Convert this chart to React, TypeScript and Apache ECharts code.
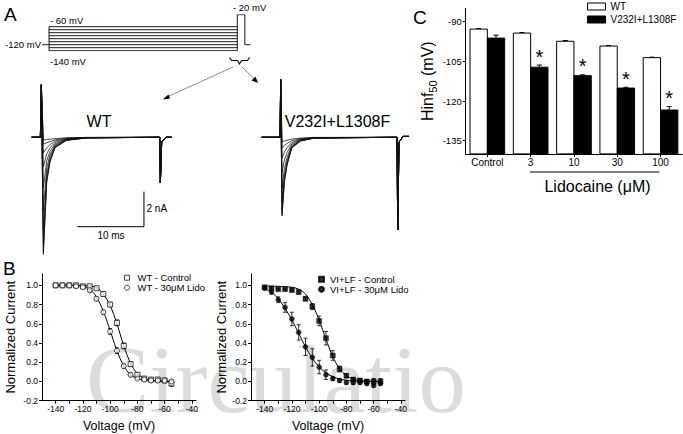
import React, { useEffect, useRef } from 'react';
import * as echarts from 'echarts';

const FONT = '"Liberation Sans", Arial, Helvetica, sans-serif';

// ---------------- Panel C : Hinf50 bars ----------------
const C_CATEGORIES = ['Control', '3', '10', '30', '100'];
const C_WT = [-92.8, -94.3, -97.4, -99.2, -103.6];
const C_WT_ERR = [0.2, 0.2, 0.3, 0.2, 0.2];
const C_MUT = [-96.2, -107.2, -110.4, -115.1, -123.4];
const C_MUT_ERR = [1.1, 0.8, 0.3, 0.3, 1.3];
const C_SIGNIFICANT = [0, 1, 1, 1, 1];
const C_Y_LABELS = [-135, -120, -105, -90];

// ---------------- Panel B : steady-state inactivation ----------------
const B_VOLTAGES = [-140, -135, -130, -125, -120, -115, -110, -105, -100, -95, -90, -85, -80, -75, -70, -65, -60, -55];
const WT_CTRL = [1.0, 1.0, 1.0, 1.0, 0.99, 0.99, 0.97, 0.91, 0.8, 0.61, 0.37, 0.18, 0.07, 0.03, 0.02, 0.02, 0.01, -0.02];
const WT_CTRL_ERR = [0.01, 0.01, 0.01, 0.01, 0.01, 0.01, 0.01, 0.02, 0.02, 0.03, 0.03, 0.02, 0.02, 0.01, 0.01, 0.01, 0.01, 0.03];
const WT_LIDO = [1.0, 1.0, 1.0, 0.99, 0.98, 0.95, 0.86, 0.72, 0.52, 0.32, 0.16, 0.07, 0.03, 0.02, 0.01, 0.01, 0.01, 0.0];
const WT_LIDO_ERR = [0.01, 0.01, 0.01, 0.01, 0.01, 0.02, 0.02, 0.02, 0.03, 0.03, 0.02, 0.02, 0.01, 0.01, 0.01, 0.01, 0.01, 0.02];
const WT_CTRL_FIT = [1.0, 1.0, 1.0, 1.0, 1.0, 0.99, 0.98, 0.91, 0.79, 0.6, 0.37, 0.19, 0.08, 0.035, 0.015, 0.006, 0.003, 0.001];
const WT_LIDO_FIT = [1.0, 1.0, 1.0, 0.995, 0.99, 0.96, 0.88, 0.73, 0.53, 0.32, 0.16, 0.07, 0.03, 0.012, 0.005, 0.002, 0.001, 0.0];

const VL_CTRL = [0.98, 0.97, 0.96, 0.96, 0.95, 0.93, 0.86, 0.78, 0.63, 0.45, 0.27, 0.13, 0.06, 0.02, 0.01, 0.0, 0.0, 0.0];
const VL_CTRL_ERR = [0.01, 0.01, 0.01, 0.01, 0.01, 0.02, 0.02, 0.03, 0.05, 0.07, 0.05, 0.03, 0.02, 0.02, 0.02, 0.02, 0.03, 0.03];
const VL_LIDO = [0.97, 0.93, 0.85, 0.77, 0.65, 0.51, 0.36, 0.25, 0.15, 0.07, 0.03, 0.01, -0.01, -0.01, -0.01, -0.02, -0.04, -0.02];
const VL_LIDO_ERR = [0.01, 0.02, 0.03, 0.05, 0.07, 0.08, 0.09, 0.09, 0.07, 0.05, 0.02, 0.02, 0.02, 0.02, 0.02, 0.02, 0.02, 0.02];
const VL_CTRL_FIT = [0.995, 0.99, 0.99, 0.985, 0.98, 0.96, 0.91, 0.8, 0.64, 0.44, 0.26, 0.13, 0.06, 0.025, 0.01, 0.004, 0.002, 0.001];
const VL_LIDO_FIT = [0.96, 0.93, 0.86, 0.76, 0.64, 0.5, 0.36, 0.24, 0.15, 0.09, 0.05, 0.025, 0.013, 0.006, 0.003, 0.001, 0.0, 0.0];

const B_X_LABELS = [-140, -120, -100, -80, -60, -40];
const B_X_TICKS = [-140, -130, -120, -110, -100, -90, -80, -70, -60, -50, -40];
const B_Y_LABELS = [-0.2, 0.0, 0.2, 0.4, 0.6, 0.8, 1.0];

// ---------------- Panel A : current traces (ms, nA) ----------------
const WT_T = [0, 1.3, 1.45, 1.75, 2.25, 2.75, 3.5, 5.2, 8.2, 19.2, 19.3, 19.5, 20.2, 21];
const WT_TRACES = [
  [0, 0, 3.0, -6.7, -2.6, -1.4, -0.6, -0.18, -0.04, 0, -2.6, -0.25, 0, 0],
  [0, 0, 3.0, -6.5, -2.5, -1.35, -0.58, -0.17, -0.04, 0, -2.6, -0.25, 0, 0],
  [0, 0, 3.0, -6.1, -2.35, -1.3, -0.55, -0.16, -0.04, 0, -2.6, -0.25, 0, 0],
  [0, 0, 3.0, -5.3, -2.1, -1.15, -0.5, -0.15, -0.03, 0, -2.6, -0.25, 0, 0],
  [0, 0, 3.0, -4.2, -1.75, -1.0, -0.45, -0.13, -0.03, 0, -2.6, -0.25, 0, 0],
  [0, 0, 3.0, -2.9, -1.35, -0.8, -0.38, -0.11, -0.03, 0, -2.6, -0.25, 0, 0],
  [0, 0, 3.0, -1.7, -0.95, -0.6, -0.3, -0.09, -0.02, 0, -2.6, -0.25, 0, 0],
  [0, 0, 3.0, -0.9, -0.6, -0.42, -0.22, -0.07, -0.02, 0, -2.6, -0.25, 0, 0],
  [0, 0, 3.0, -0.4, -0.32, -0.25, -0.15, -0.05, -0.01, 0, -2.6, -0.25, 0, 0],
  [0, 0, 3.0, -0.15, -0.13, -0.11, -0.08, -0.03, -0.01, 0, -2.6, -0.25, 0, 0],
];
const VL_T = [0, 2.75, 2.85, 3.05, 3.4, 3.8, 4.5, 5.8, 7.8, 20.3, 20.4, 20.6, 21.2, 22.1];
const VL_TRACES = [
  [0, 0, 3.3, -4.5, -2.6, -1.6, -0.62, -0.22, -0.05, 0, -5.3, -0.28, 0.05, 0.05],
  [0, 0, 3.3, -4.4, -2.5, -1.55, -0.6, -0.21, -0.05, 0, -5.3, -0.28, 0.05, 0.05],
  [0, 0, 3.3, -4.2, -2.4, -1.5, -0.58, -0.2, -0.05, 0, -5.3, -0.28, 0.05, 0.05],
  [0, 0, 3.3, -3.7, -2.15, -1.35, -0.53, -0.19, -0.04, 0, -5.3, -0.28, 0.05, 0.05],
  [0, 0, 3.3, -2.9, -1.8, -1.15, -0.47, -0.17, -0.04, 0, -5.3, -0.28, 0.05, 0.05],
  [0, 0, 3.3, -2.0, -1.3, -0.88, -0.39, -0.14, -0.03, 0, -5.3, -0.28, 0.05, 0.05],
  [0, 0, 3.3, -1.2, -0.85, -0.6, -0.3, -0.11, -0.03, 0, -5.3, -0.28, 0.05, 0.05],
  [0, 0, 3.3, -0.6, -0.47, -0.36, -0.2, -0.08, -0.02, 0, -5.3, -0.28, 0.05, 0.05],
  [0, 0, 3.3, -0.25, -0.21, -0.17, -0.11, -0.05, -0.01, 0, -5.3, -0.28, 0.05, 0.05],
];
const SCALE_MS = 10;
const SCALE_NA = 2;

// ---------------- Panel A : voltage protocol ----------------
const PROTOCOL_LEVELS = [-140, -130, -120, -110, -100, -90, -80, -70, -60];
const PRE_MS = 500;
const TEST_MS = 20;
const TAIL_MS = 15;
const TEST_MV = -20;
const HOLD_MV = -120;

const txt = (text: string, x: number, y: number, size: number, align = 'left', extra: any = {}) => ({
  type: 'text',
  x,
  y,
  z: 100,
  silent: true,
  style: {
    text,
    fontFamily: FONT,
    fontSize: size,
    fill: '#000',
    align,
    verticalAlign: 'middle',
    ...extra,
  },
});

function barRenderer(offsetFrac: number, fill: string) {
  return (params: any, api: any) => {
    const i = api.value(0);
    const v = api.value(1);
    const e = api.value(2);
    const sig = api.value(3);
    const band = api.size([1, 0])[0];
    const pt = api.coord([i, v]);
    const cx = pt[0] + offsetFrac * band;
    const w = band * 0.4;
    const top = pt[1];
    const cs = params.coordSys;
    const bottom = cs.y + cs.height;
    const errTop = api.coord([i, v + e])[1];
    const children: any[] = [
      { type: 'line', shape: { x1: cx, y1: top, x2: cx, y2: errTop }, style: { stroke: '#000', lineWidth: 1 } },
      { type: 'line', shape: { x1: cx - 2.5, y1: errTop, x2: cx + 2.5, y2: errTop }, style: { stroke: '#000', lineWidth: 1 } },
      {
        type: 'rect',
        shape: { x: cx - w / 2, y: top, width: w, height: bottom - top },
        style: { fill, stroke: '#000', lineWidth: 1 },
      },
    ];
    if (sig) {
      children.push({
        type: 'text',
        x: cx,
        y: errTop - 8.5,
        style: { text: '*', fontFamily: FONT, fontSize: 20, fill: '#000', align: 'center', verticalAlign: 'middle' },
      });
    }
    return { type: 'group', children };
  };
}

function errRenderer(params: any, api: any) {
  const x = api.value(0);
  const y = api.value(1);
  const e = api.value(2);
  const lo = api.coord([x, y - e]);
  const hi = api.coord([x, y + e]);
  const st = { stroke: '#000', lineWidth: 0.8 };
  return {
    type: 'group',
    children: [
      { type: 'line', shape: { x1: lo[0], y1: lo[1], x2: hi[0], y2: hi[1] }, style: st },
      { type: 'line', shape: { x1: lo[0] - 2, y1: lo[1], x2: lo[0] + 2, y2: lo[1] }, style: st },
      { type: 'line', shape: { x1: hi[0] - 2, y1: hi[1], x2: hi[0] + 2, y2: hi[1] }, style: st },
    ],
  };
}

function buildOption(): any {
  const axisLine = { show: true, onZero: false, lineStyle: { color: '#000', width: 1 } };
  const hiddenAxis = { show: false };

  const bXAxis = (gridIndex: number) => ({
    type: 'value',
    gridIndex,
    min: -150,
    max: -37,
    axisLine,
    axisTick: { show: true, length: 3, customValues: B_X_TICKS, lineStyle: { color: '#000' } },
    axisLabel: { customValues: B_X_LABELS, fontSize: 8.5, color: '#000', fontFamily: FONT, margin: 4 },
    splitLine: { show: false },
    name: 'Voltage (mV)',
    nameLocation: 'middle',
    nameGap: 19,
    nameTextStyle: { fontSize: 12.5, color: '#000', fontFamily: FONT },
  });
  const bYAxis = (gridIndex: number, gap: number) => ({
    type: 'value',
    gridIndex,
    min: -0.2,
    max: 1.12,
    axisLine,
    axisTick: { show: true, length: 3, customValues: B_Y_LABELS, lineStyle: { color: '#000' } },
    axisLabel: {
      customValues: B_Y_LABELS,
      fontSize: 8.5,
      color: '#000',
      fontFamily: FONT,
      margin: 4,
      formatter: (v: number) => v.toFixed(1),
    },
    splitLine: { show: false },
    name: 'Normalized Current',
    nameLocation: 'middle',
    nameGap: gap,
    nameTextStyle: { fontSize: 13, color: '#000', fontFamily: FONT },
  });

  const grid = [
    { left: 465.7, top: 8.5, width: 216.5, height: 145.4 }, // C
    { left: 42, top: 273.8, width: 154, height: 126.9 }, // B left
    { left: 251, top: 273.8, width: 154, height: 126.9 }, // B right
    { left: 31.7, top: 76, width: 140, height: 183.75 }, // WT traces
    { left: 261.7, top: 76, width: 150, height: 183.75 }, // VL traces
    { left: 41.5, top: 14.7, width: 209, height: 36 }, // protocol
  ];

  const xAxis = [
    {
      type: 'category',
      gridIndex: 0,
      data: C_CATEGORIES,
      axisLine,
      axisTick: { show: true, alignWithLabel: true, length: 3, lineStyle: { color: '#000' } },
      axisLabel: { fontSize: 10, color: '#000', fontFamily: FONT, margin: 4 },
    },
    bXAxis(1),
    bXAxis(2),
    { type: 'value', gridIndex: 3, min: 0, max: 21, ...hiddenAxis },
    { type: 'value', gridIndex: 4, min: 0, max: 22.5, ...hiddenAxis },
    { type: 'value', gridIndex: 5, min: -20, max: PRE_MS + TEST_MS + TAIL_MS, ...hiddenAxis },
  ];
  const yAxis = [
    {
      type: 'value',
      gridIndex: 0,
      min: -140,
      max: -85,
      axisLine,
      axisTick: { show: true, length: 3, customValues: C_Y_LABELS, lineStyle: { color: '#000' } },
      axisLabel: { customValues: C_Y_LABELS, fontSize: 9.5, color: '#000', fontFamily: FONT, margin: 4 },
      splitLine: { show: false },
      name: 'Hinf{sub|50} (mV)',
      nameLocation: 'middle',
      nameGap: 27,
      nameTextStyle: {
        fontSize: 16,
        color: '#000',
        fontFamily: FONT,
        rich: { sub: { fontSize: 11, fontFamily: FONT, color: '#000', verticalAlign: 'bottom', lineHeight: 22 } },
      },
    },
    bYAxis(1, 25),
    bYAxis(2, 23),
    { type: 'value', gridIndex: 3, min: -7, max: 3.5, ...hiddenAxis },
    { type: 'value', gridIndex: 4, min: -7, max: 3.5, ...hiddenAxis },
    { type: 'value', gridIndex: 5, min: -140, max: TEST_MV, ...hiddenAxis },
  ];

  const series: any[] = [];

  // Panel C
  series.push({
    type: 'custom',
    name: 'WT',
    xAxisIndex: 0,
    yAxisIndex: 0,
    encode: { x: 0, y: 1 },
    data: C_CATEGORIES.map((_, i) => [i, C_WT[i], C_WT_ERR[i], 0]),
    renderItem: barRenderer(-0.2, '#ffffff'),
    itemStyle: { color: '#ffffff', borderColor: '#000' },
    silent: true,
  });
  series.push({
    type: 'custom',
    name: 'V232I+L1308F',
    xAxisIndex: 0,
    yAxisIndex: 0,
    encode: { x: 0, y: 1 },
    data: C_CATEGORIES.map((_, i) => [i, C_MUT[i], C_MUT_ERR[i], C_SIGNIFICANT[i]]),
    renderItem: barRenderer(0.2, '#000000'),
    itemStyle: { color: '#000000' },
    silent: true,
  });

  // Panel B
  const bSet = (
    idx: number,
    name: string,
    mean: number[],
    err: number[],
    fit: number[],
    symbol: string,
    filled: boolean
  ) => {
    series.push({
      type: 'line',
      name: name + ' fit',
      xAxisIndex: idx,
      yAxisIndex: idx,
      data: B_VOLTAGES.map((v, i) => [v, fit[i]]),
      smooth: 0.3,
      showSymbol: false,
      lineStyle: { color: '#000', width: 1 },
      silent: true,
      z: 1,
    });
    series.push({
      type: 'custom',
      name: name + ' err',
      xAxisIndex: idx,
      yAxisIndex: idx,
      encode: { x: 0, y: 1 },
      data: B_VOLTAGES.map((v, i) => [v, mean[i], err[i]]),
      renderItem: errRenderer,
      silent: true,
      z: 2,
    });
    series.push({
      type: 'scatter',
      name,
      xAxisIndex: idx,
      yAxisIndex: idx,
      data: B_VOLTAGES.map((v, i) => [v, mean[i]]),
      symbol,
      symbolSize: 5,
      itemStyle: filled
        ? { color: '#000', borderColor: '#000', borderWidth: 0.5 }
        : { color: '#fff', borderColor: '#000', borderWidth: 0.9 },
      silent: true,
      z: 3,
    });
  };
  bSet(1, 'WT - Control', WT_CTRL, WT_CTRL_ERR, WT_CTRL_FIT, 'rect', false);
  bSet(1, 'WT - 30μM Lido', WT_LIDO, WT_LIDO_ERR, WT_LIDO_FIT, 'circle', false);
  bSet(2, 'VI+LF - Control', VL_CTRL, VL_CTRL_ERR, VL_CTRL_FIT, 'rect', true);
  bSet(2, 'VI+LF - 30μM Lido', VL_LIDO, VL_LIDO_ERR, VL_LIDO_FIT, 'circle', true);

  // Panel A traces
  const traceLine = (idx: number, t: number[], row: number[], k: number, prefix: string) => ({
    type: 'line',
    name: prefix + k,
    xAxisIndex: idx,
    yAxisIndex: idx,
    data: t.map((tt, j) => [tt, row[j]]),
    showSymbol: false,
    lineStyle: { color: '#111', width: 0.75 },
    silent: true,
  });
  WT_TRACES.forEach((row, k) => series.push(traceLine(3, WT_T, row, k, 'wt-trace-')));
  VL_TRACES.forEach((row, k) => series.push(traceLine(4, VL_T, row, k, 'vl-trace-')));

  // scale bar (10 ms, 2 nA) in the WT trace coordinates
  const sbX = 6.84;
  const sbY = -5.11;
  series.push({
    type: 'line',
    name: 'scale bar',
    xAxisIndex: 3,
    yAxisIndex: 3,
    data: [
      [sbX, sbY],
      [sbX + SCALE_MS, sbY],
      [sbX + SCALE_MS, sbY + SCALE_NA],
    ],
    showSymbol: false,
    lineStyle: { color: '#000', width: 1 },
    silent: true,
  });

  // Protocol
  PROTOCOL_LEVELS.forEach((v, k) =>
    series.push({
      type: 'line',
      name: 'pre-' + k,
      xAxisIndex: 5,
      yAxisIndex: 5,
      data: [
        [0, v],
        [PRE_MS, v],
      ],
      showSymbol: false,
      lineStyle: { color: '#000', width: 0.9 },
      silent: true,
    })
  );
  series.push({
    type: 'line',
    name: 'protocol-edges',
    xAxisIndex: 5,
    yAxisIndex: 5,
    data: [
      [0, PROTOCOL_LEVELS[PROTOCOL_LEVELS.length - 1]],
      [0, PROTOCOL_LEVELS[0]],
    ],
    showSymbol: false,
    lineStyle: { color: '#000', width: 0.9 },
    silent: true,
  });
  series.push({
    type: 'line',
    name: 'protocol-pulse',
    xAxisIndex: 5,
    yAxisIndex: 5,
    data: [
      [PRE_MS, PROTOCOL_LEVELS[0]],
      [PRE_MS, TEST_MV],
      [PRE_MS + TEST_MS, TEST_MV],
      [PRE_MS + TEST_MS, HOLD_MV],
      [PRE_MS + TEST_MS + TAIL_MS, HOLD_MV],
    ],
    showSymbol: false,
    lineStyle: { color: '#000', width: 0.9 },
    silent: true,
  });
  series.push({
    type: 'line',
    name: 'protocol-hold-tick',
    xAxisIndex: 5,
    yAxisIndex: 5,
    data: [
      [-18, HOLD_MV],
      [0, HOLD_MV],
    ],
    showSymbol: false,
    lineStyle: { color: '#000', width: 0.9 },
    silent: true,
  });

  const legend = [
    {
      left: 587,
      top: 0.5,
      orient: 'vertical',
      itemWidth: 18,
      itemHeight: 7,
      itemGap: 1,
      padding: 0,
      selectedMode: false,
      textStyle: { fontSize: 10, fontFamily: FONT, color: '#000', lineHeight: 12 },
      data: [
        { name: 'WT', icon: 'rect', itemStyle: { color: '#fff', borderColor: '#000', borderWidth: 1 } },
        { name: 'V232I+L1308F', icon: 'rect', itemStyle: { color: '#000', borderColor: '#000', borderWidth: 1 } },
      ],
    },
    {
      left: 124,
      top: 272.7,
      orient: 'vertical',
      itemWidth: 5,
      itemHeight: 5,
      itemGap: 0,
      padding: 0,
      selectedMode: false,
      textStyle: { fontSize: 9.5, fontFamily: FONT, color: '#000', lineHeight: 8, padding: [0, 0, 0, 3] },
      data: [
        { name: 'WT - Control', icon: 'rect', itemStyle: { color: '#fff', borderColor: '#000', borderWidth: 0.9 } },
        { name: 'WT - 30μM Lido', icon: 'circle', itemStyle: { color: '#fff', borderColor: '#000', borderWidth: 0.9 } },
      ],
    },
    {
      left: 318,
      top: 274.3,
      orient: 'vertical',
      itemWidth: 5,
      itemHeight: 5,
      itemGap: 0,
      padding: 0,
      selectedMode: false,
      textStyle: { fontSize: 9.5, fontFamily: FONT, color: '#000', lineHeight: 8, padding: [0, 0, 0, 1] },
      data: [
        { name: 'VI+LF - Control', icon: 'rect', itemStyle: { color: '#000', borderColor: '#000' } },
        { name: 'VI+LF - 30μM Lido', icon: 'circle', itemStyle: { color: '#000', borderColor: '#000' } },
      ],
    },
  ];

  const graphic = [
    {
      type: 'text',
      x: 86,
      y: 380,
      z: -10,
      silent: true,
      style: {
        text: 'Circulatio',
        fontFamily: '"Liberation Serif", "DejaVu Serif", serif',
        fontSize: 95,
        fill: '#dcdcdc',
        verticalAlign: 'middle',
      },
    },
    txt('A', 4, 14, 19),
    txt('B', 3, 268, 19),
    txt('C', 413, 17, 19),
    txt('- 60 mV', 50, 20, 9.5),
    txt('-120 mV', 41, 44.5, 9.5, 'right'),
    txt('-140 mV', 50, 61.5, 9.5),
    txt('- 20 mV', 233, 7, 9.5),
    txt('WT', 99, 121, 16, 'center'),
    txt('V232I+L1308F', 337.5, 121, 16, 'center'),
    txt('2 nA', 146.5, 208, 10),
    txt('10 ms', 111, 235, 10, 'center'),
    txt('Lidocaine (μM)', 597.5, 186, 16, 'center'),
    {
      type: 'line',
      z: 100,
      silent: true,
      shape: { x1: 530, y1: 172, x2: 659.5, y2: 172 },
      style: { stroke: '#000', lineWidth: 1 },
    },
    {
      type: 'polyline',
      z: 100,
      silent: true,
      shape: {
        points: [
          [229.5, 57.5],
          [231.5, 60.5],
          [237.5, 60.5],
          [239.5, 64],
          [241.5, 60.5],
          [247.5, 60.5],
          [249.5, 57.5],
        ],
      },
      style: { stroke: '#000', lineWidth: 1.1, fill: 'none' },
    },
    {
      type: 'line',
      z: 100,
      silent: true,
      shape: { x1: 233, y1: 67, x2: 167, y2: 97 },
      style: { stroke: '#555', lineWidth: 0.7 },
    },
    {
      type: 'polygon',
      z: 100,
      silent: true,
      shape: { points: [[162.5, 99.5], [168.5, 94.5], [170, 98.5]] },
      style: { fill: '#000' },
    },
    {
      type: 'line',
      z: 100,
      silent: true,
      shape: { x1: 242, y1: 67, x2: 255, y2: 79.5 },
      style: { stroke: '#555', lineWidth: 0.7 },
    },
    {
      type: 'polygon',
      z: 100,
      silent: true,
      shape: { points: [[258, 83], [251.5, 80.5], [255.5, 76.5]] },
      style: { fill: '#000' },
    },
  ];

  return {
    animation: false,
    backgroundColor: '#ffffff',
    textStyle: { fontFamily: FONT },
    grid,
    xAxis,
    yAxis,
    legend,
    series,
    graphic,
  };
}

export default function App() {
  const ref = useRef<HTMLDivElement>(null);
  useEffect(() => {
    document.body.style.margin = '0';
    const chart = echarts.init(ref.current as HTMLDivElement, null, { renderer: 'svg' });
    chart.setOption(buildOption());
    return () => chart.dispose();
  }, []);
  return <div ref={ref} style={{ width: 683, height: 434, background: '#fff' }} />;
}
